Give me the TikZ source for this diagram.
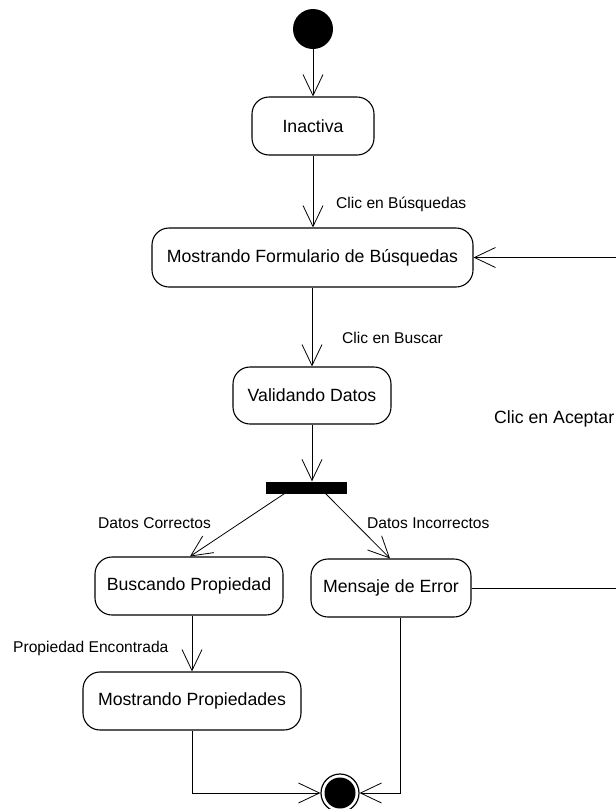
\documentclass[tikz,border=0pt]{standalone}
\usepackage{fontspec}
\setmainfont{Liberation Sans}
\usetikzlibrary{arrows.meta}

\begin{document}
\begin{tikzpicture}[x=1pt, y=-1pt,
  stat/.style={draw, rounded corners=17pt, line width=1.1pt, inner sep=0pt,
    font=\fontsize{17.7}{20}\selectfont},
  lbl/.style={inner sep=0pt, anchor=base west, font=\fontsize{15.6}{18}\selectfont},
  arr/.style={line width=0.8pt, -{Straight Barb[length=21pt, width=20pt, line width=0.8pt]}},
  conn/.style={line width=0.8pt}]
  \clip (0,0) rectangle (616,809);
  \fill[white] (0,0) rectangle (616,809);

  % initial and final pseudo-states
  \node[circle, fill=black, minimum size=40pt, inner sep=0pt] (init) at (313,29) {};
  \node[circle, draw, fill=white, minimum size=38pt, inner sep=0pt, line width=1.2pt] (fin) at (340,793) {};
  \fill[black] (fin.center) circle (15.5pt);

  % activity states
  \node[stat, minimum width=122pt, minimum height=58pt] (inact) at (313,126) {Inactiva};
  \node[stat, minimum width=321pt, minimum height=59pt] (form) at (312.5,257.5) {Mostrando Formulario de Búsquedas};
  \node[stat, minimum width=158pt, minimum height=57pt] (valid) at (312,395.5) {Validando Datos};
  \node[fill=black, minimum width=81pt, minimum height=12pt, inner sep=0pt] (bar) at (306,487.5) {};
  \node[stat, minimum width=188pt, minimum height=58pt] (busc) at (189,586) {Buscando Propiedad};
  \node[stat, minimum width=160pt, minimum height=58pt] (err) at (391,588) {Mensaje de Error};
  \node[stat, minimum width=218pt, minimum height=58pt] (props) at (192,701) {Mostrando Propiedades};

  % transition labels
  \node[lbl] (tBusq) at (336,208) {Clic en Búsquedas};
  \node[lbl] (tBuscar) at (342,343) {Clic en Buscar};
  \node[lbl, font=\fontsize{17.7}{20}\selectfont] (tAcept) at (494,423) {Clic en Aceptar};
  \node[lbl] (tOk) at (98,528) {Datos Correctos};
  \node[lbl] (tBad) at (367,528) {Datos Incorrectos};
  \node[lbl] (tFound) at (13,652) {Propiedad Encontrada};

  % transitions
  \draw[arr] (init) -- (inact);
  \draw[arr] (inact.south) -- (inact.south |- form.north);
  \draw[arr] (valid.north |- form.south) -- (valid.north);
  \draw[arr] (valid.south) -- (valid.south |- bar.north);
  \draw[arr] ([xshift=19pt]bar.south west) -- ([xshift=1pt]busc.north);
  \draw[arr] ([xshift=-21pt]bar.south east) -- ([xshift=-1pt]err.north);
  \draw[arr] (props.north |- busc.south) -- (props.north);
  \draw[arr] (props.south) |- (fin.west);
  \draw[arr] ([xshift=9pt]err.south) |- (fin.east);

  % loop back to the search form
  \coordinate (loopA) at (632,588);
  \coordinate (loopB) at (632,257.5);
  \draw[conn] (err.east) -- (loopA) -- (loopB);
  \draw[arr] (loopB) -- (form.east);
\end{tikzpicture}
\end{document}
